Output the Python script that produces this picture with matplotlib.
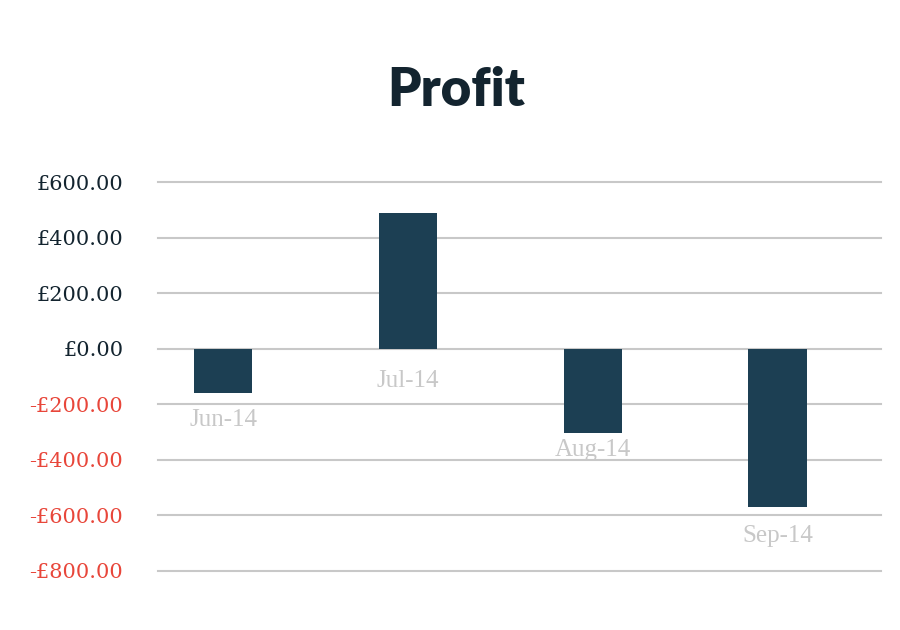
import matplotlib.pyplot as plt

months = ["Jun-14", "Jul-14", "Aug-14", "Sep-14"]
profit = [-160, 487, -302, -570]
y_ticks = [600, 400, 200, 0, -200, -400, -600, -800]

BAR = "#1c3f53"
DARK = "#13242f"
RED = "#e8463a"
# how far (points) below the bar end each month label's baseline sits, as in the original
label_drop = [23.5, 27.5, 16.5, 25]

fig = plt.figure(figsize=(9, 6.3), dpi=100)
ax = fig.add_axes([158 / 900, 1 - 571 / 630, (881 - 158) / 900, (571 - 182) / 630])

x = list(range(len(months)))
ax.bar(x, profit, width=0.315, color=BAR, zorder=3)
ax.set_xlim(-0.352, 3.56)
ax.set_ylim(-800, 600)

for t in y_ticks:
    ax.axhline(t, color="#c8c8c8", lw=1.5, zorder=1, clip_on=False)

ax.set_yticks(y_ticks)
labels = [("-£%.2f" % abs(t)) if t < 0 else ("£%.2f" % t) for t in y_ticks]
ax.set_yticklabels(labels, fontfamily="DejaVu Serif", fontsize=15)
for lbl, t in zip(ax.get_yticklabels(), y_ticks):
    lbl.set_color(RED if t < 0 else DARK)
ax.tick_params(axis="y", length=0, pad=25)
ax.set_xticks([])
for s in ax.spines.values():
    s.set_visible(False)

for i, (m, v) in enumerate(zip(months, profit)):
    ax.annotate(m, xy=(i, min(v, 0)), xytext=(0, -label_drop[i]), textcoords="offset points",
                ha="center", va="baseline", fontsize=18, color="#c8c8c8",
                fontfamily="Liberation Serif", zorder=4)

fig.text(0.507, 0.857, "Profit", ha="center", va="center", fontsize=38,
         fontweight="heavy", color=DARK, fontfamily="Lato")

fig.savefig("out.png")
